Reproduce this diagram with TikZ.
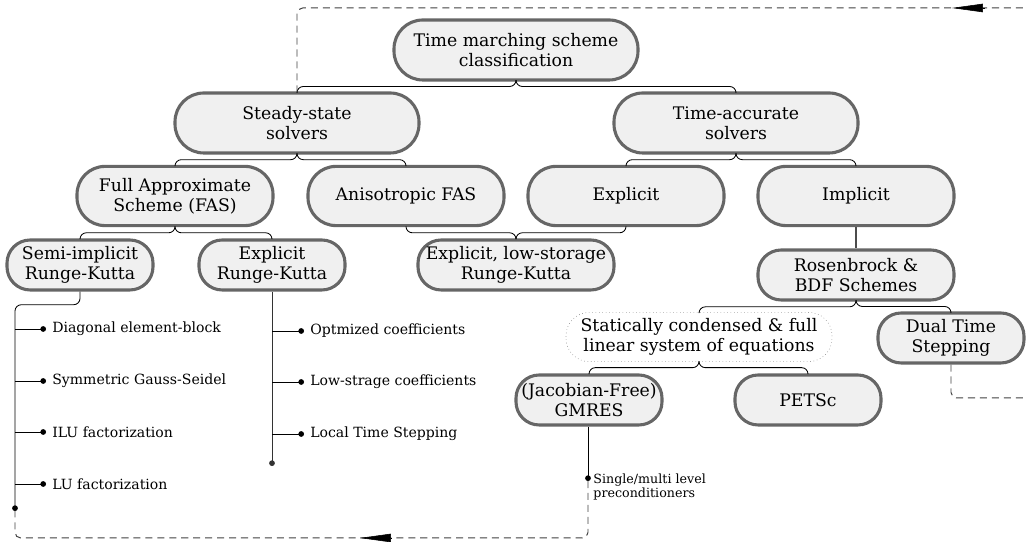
\documentclass[tikz,border=0pt]{standalone}
\usepackage{fontspec}
\setmainfont{DejaVu Serif}
\usepackage{tikz}
\usetikzlibrary{arrows.meta,calc}

\tikzset{
	box/.style={draw=black!60, line width=2.2pt, fill=black!6, align=center, inner sep=1pt, font=\fontsize{12.3}{14}\selectfont},
	bigbox/.style={box, minimum width=6.1cm, minimum height=1.5cm, rounded corners=0.72cm},
	midbox/.style={box, minimum width=4.9cm, minimum height=1.48cm, rounded corners=0.7cm},
	leafbox/.style={box, minimum width=3.65cm, minimum height=1.25cm, rounded corners=0.58cm},
	dotbox/.style={draw=black!55, dotted, fill=white, align=center, inner sep=1pt, font=\fontsize{12.3}{14}\selectfont, minimum width=6.65cm, minimum height=1.23cm, rounded corners=0.58cm},
	item/.style={font=\fontsize{10}{12}\selectfont, anchor=west, inner sep=0pt, inner xsep=4.3pt},
	branch/.style={line width=0.6pt, rounded corners=4.5pt},
	leaf/.style={line width=0.6pt, -{Circle[length=4pt]}},
	loop/.style={draw=black!75, line width=0.7pt, dash pattern=on 5pt off 3.5pt, rounded corners=4pt},
	looptip/.style={-{Triangle[length=22pt,width=6pt]}}
}
\newcommand{\branch}[2] % {parent}{child}
{
	\draw[branch] (#1.south) -- ($(#1.south)!0.5!(#1.south |- #2.north)$) -| (#2.north);
}

\begin{document}
\begin{tikzpicture}
	\useasboundingbox (0,0) rectangle (25.65,13.55);
	\clip (0,0) rectangle (25.65,13.55);

	\node[bigbox] (root) at (12.9,12.3) {Time marching scheme\\classification};
	\node[bigbox] (steady) at (7.425,10.475) {Steady-state\\solvers};
	\node[bigbox] (accurate) at (18.4,10.475) {Time-accurate\\solvers};

	\node[midbox] (fas) at (4.375,8.65) {Full Approximate\\Scheme (FAS)};
	\node[midbox] (aniso) at (10.15,8.65) {Anisotropic FAS};
	\node[midbox] (explicit) at (15.65,8.65) {Explicit};
	\node[midbox] (implicit) at (21.4,8.65) {Implicit};

	\node[leafbox] (semi) at (2.0,6.925) {Semi-implicit\\Runge-Kutta};
	\node[leafbox] (erk) at (6.8,6.925) {Explicit\\Runge-Kutta};
	\node[leafbox, minimum width=4.9cm] (lowstorage) at (12.9,6.925) {Explicit, low-storage\\Runge-Kutta};
	\node[leafbox, minimum width=4.9cm] (rosen) at (21.4,6.675) {Rosenbrock \&\\BDF Schemes};

	\node[dotbox] (condensed) at (17.475,5.125) {Statically condensed \& full\\linear system of equations};
	\node[leafbox] (dual) at (23.775,5.1) {Dual Time\\Stepping};
	\node[leafbox] (gmres) at (14.725,3.55) {(Jacobian-Free)\\GMRES};
	\node[leafbox] (petsc) at (20.2,3.55) {PETSc};

	\branch{root}{steady}
	\branch{root}{accurate}
	\branch{steady}{fas}
	\branch{steady}{aniso}
	\branch{accurate}{explicit}
	\branch{accurate}{implicit}
	\branch{fas}{semi}
	\branch{fas}{erk}
	\branch{aniso}{lowstorage}
	\branch{explicit}{lowstorage}
	\draw[black!70, line width=0.8pt] (implicit.south) -- (rosen.north);
	\branch{rosen}{condensed}
	\branch{rosen}{dual}
	\branch{condensed}{gmres}
	\branch{condensed}{petsc}

	% semi-implicit RK options
	\coordinate (semiend) at (0.375,0.775);
	\draw[branch, leaf] (semi.south) -- ++(0,-0.33) -| (semiend);
	\node[item] (diag) at (1.15,5.325) {Diagonal element-block};
	\node[item] (sgs) at (1.15,4.025) {Symmetric Gauss-Seidel};
	\node[item] (ilu) at (1.15,2.75) {ILU factorization};
	\node[item] (lu) at (1.15,1.45) {LU factorization};
	\draw[leaf] (diag.west -| semiend) -- (diag.west);
	\draw[leaf] (sgs.west -| semiend) -- (sgs.west);
	\draw[leaf] (ilu.west -| semiend) -- (ilu.west);
	\draw[leaf] (lu.west -| semiend) -- (lu.west);

	% explicit RK options
	\coordinate (erkend) at (6.8,1.9);
	\draw[leaf, black!80] (erk.south) -- (erkend);
	\node[item] (opt) at (7.6,5.275) {Optmized coefficients};
	\node[item] (lowc) at (7.6,4.0) {Low-strage coefficients};
	\node[item] (lts) at (7.6,2.7) {Local Time Stepping};
	\draw[leaf] (opt.west -| erkend) -- (opt.west);
	\draw[leaf] (lowc.west -| erkend) -- (lowc.west);
	\draw[leaf] (lts.west -| erkend) -- (lts.west);

	% GMRES preconditioners
	\coordinate (gmresend) at (14.7,1.525);
	\draw[leaf] (gmres.south -| gmresend) -- (gmresend);
	\node[font=\fontsize{9}{10}\selectfont, align=left, anchor=north west, inner sep=0pt] (precond) at (14.83,1.72) {Single/multi level\\preconditioners};

	% dashed loops
	\draw[loop] (gmresend) -- (14.7,0.1) -- (0.375,0.1) -- (semiend);
	\draw[looptip] (9.775,0.1) -- (9.0,0.1);
	\draw[loop] (dual.south) -- (23.775,3.6) -- (26.5,3.6) -- (26.5,13.35) -- (7.425,13.35) -- (steady.north);
	\draw[looptip] (24.625,13.35) -- (23.8,13.35);
\end{tikzpicture}
\end{document}
